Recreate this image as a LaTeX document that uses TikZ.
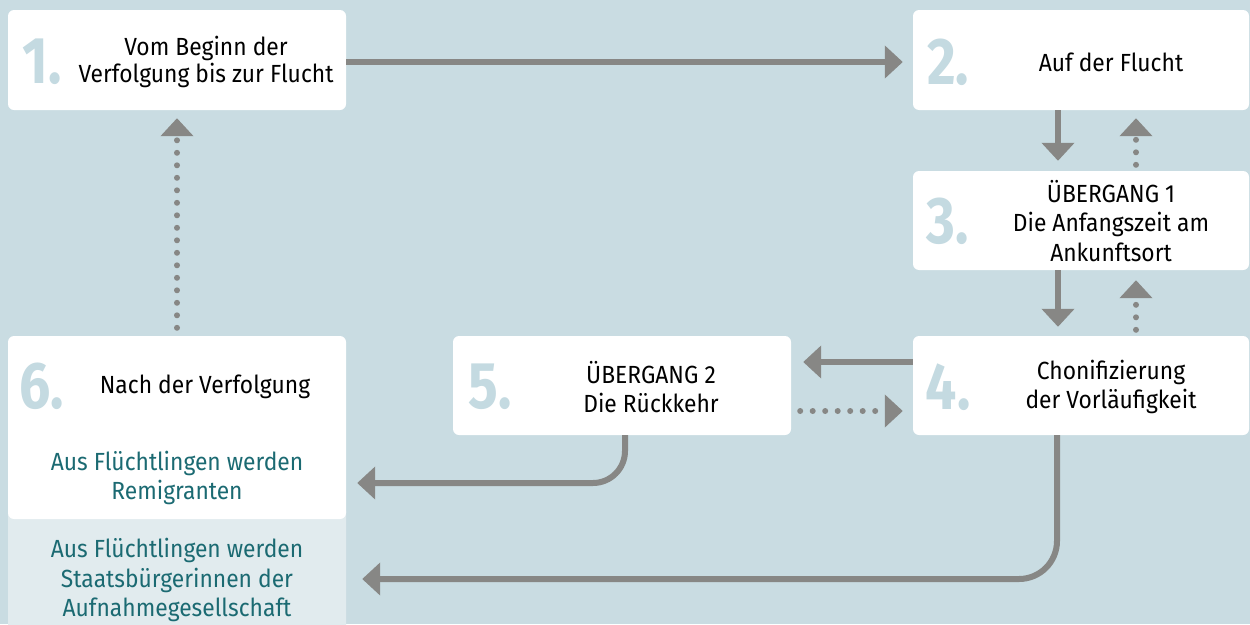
\documentclass[tikz,border=0pt]{standalone}
\usepackage{fontspec}
\setmainfont{Fira Sans}[FakeStretch=0.92]
\newfontfamily\numfont{Fira Sans}[FakeStretch=0.84]
\usepackage{xcolor}
\usetikzlibrary{positioning,arrows.meta}
\definecolor{bgblue}{HTML}{C9DCE2}
\definecolor{numblue}{HTML}{C4DAE1}
\definecolor{paleblue}{HTML}{E1EBEE}
\definecolor{tealtext}{HTML}{1B6A72}
\definecolor{arrowgrey}{HTML}{878785}

\tikzset{
  stage/.style={fill=white,rounded corners=6pt,minimum width=338pt,minimum height=100pt,inner sep=0pt},
  num/.style={text=numblue,font=\numfont\fontsize{66}{66}\selectfont\bfseries,inner sep=0pt},
  label/.style={align=center,font=\fontsize{24.8}{29.5}\selectfont,inner sep=0pt},
  conn/.style={draw=arrowgrey,line width=6pt,-{Triangle[length=18pt,width=32pt]}},
  dotconn/.style={conn,line cap=round,dash pattern=on 0pt off 12.5pt}
}

\begin{document}
\begin{tikzpicture}[x=1pt,y=-1pt]
  \fill[bgblue] (0,0) rectangle (1250,624);
  \useasboundingbox (0,0) rectangle (1250,624);
  % boxes
  \node[stage] (b1) at (177,60) {};
  \node[stage,minimum width=336pt] (b2) at (1081,60) {};
  \node[stage,minimum width=336pt,minimum height=99pt] (b3) at (1081,220.5) {};
  \node[stage,minimum width=336pt,minimum height=99pt] (b4) at (1081,385.5) {};
  \node[stage,minimum height=99pt] (b5) at (622,385.5) {};
  \node[stage,fill=paleblue,minimum height=150pt] (b6x) at (177,580) {};
  \node[stage,minimum height=183pt] (b6) at (177,427.5) {};
  % numbers
  \node[num] (n1) at (42,62) {1.};
  \node[num] (n2) at (948,62) {2.};
  \node[num] (n3) at (948,221) {3.};
  \node[num] (n4) at (948,387) {4.};
  \node[num] (n5) at (490,387) {5.};
  \node[num] (n6) at (42,386) {6.};
  % texts
  \node[label,font=\fontsize{24.8}{27}\selectfont] (t1) at (206,62) {Vom Beginn der\\Verfolgung bis zur Flucht};
  \node[label] (t2) at (1111,62) {Auf der Flucht};
  \node[label] (t3) at (1111,221) {ÜBERGANG 1\\Die Anfangszeit am\\Ankunftsort};
  \node[label] (t4) at (1111,387) {Chonifizierung\\der Vorläufigkeit};
  \node[label] (t5) at (651,387) {ÜBERGANG 2\\Die Rückkehr};
  \node[label] (t6) at (205,387) {Nach der Verfolgung};
  \node[label,text=tealtext] (r6) at (177,478) {Aus Flüchtlingen werden\\Remigranten};
  \node[label,text=tealtext] (s6) at (177,580) {Aus Flüchtlingen werden\\Staatsbürgerinnen der\\Aufnahmegesellschaft};
  % arrows
  \draw[conn,shorten >=10pt] ([yshift=-2pt]b1.east) -- ([yshift=-2pt]b2.west);
  \draw[conn,shorten >=10pt] ([xshift=-23pt]b2.south) -- ([xshift=-23pt]b3.north);
  \draw[dotconn,shorten <=6pt,shorten >=8pt] ([xshift=55pt]b3.north) -- ([xshift=55pt]b2.south);
  \draw[conn,shorten >=9pt] ([xshift=-23pt]b3.south) -- ([xshift=-23pt]b4.north);
  \draw[dotconn,shorten <=6pt,shorten >=10pt] ([xshift=55pt]b4.north) -- ([xshift=55pt]b3.south);
  \draw[conn,shorten >=12pt] ([yshift=23.5pt]b4.west) -- ([yshift=23.5pt]b5.east);
  \draw[dotconn,shorten <=9pt,shorten >=10pt] ([yshift=-25.5pt]b5.east) -- ([yshift=-25.5pt]b4.west);
  \draw[dotconn,shorten <=8pt,shorten >=8pt] (b6.north) -- (b1.south);
  \draw[conn,rounded corners=32pt,shorten >=11pt] ([xshift=3pt]b5.south) |- ([yshift=-55.5pt]b6.east);
  \draw[conn,rounded corners=38pt,shorten >=16pt] ([xshift=-24pt]b4.south) |- ([yshift=1pt]b6x.east);
\end{tikzpicture}
\end{document}
